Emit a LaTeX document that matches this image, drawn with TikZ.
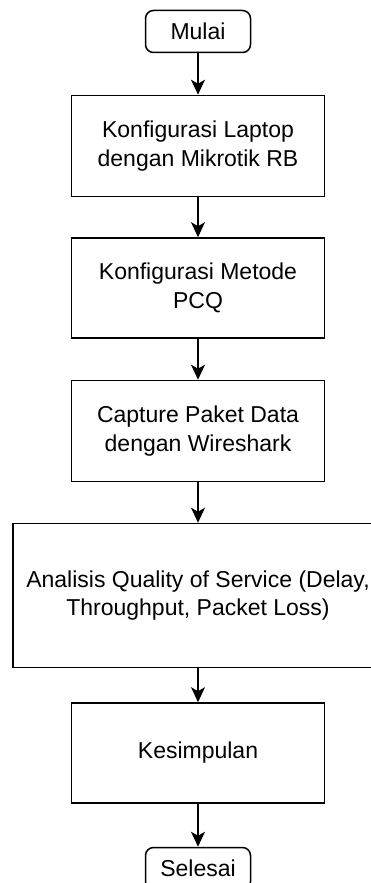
\documentclass[tikz,border=0pt]{standalone}
\usepackage{fontspec}
\setmainfont{Liberation Sans}
\usetikzlibrary{arrows.meta}
\begin{document}
\begin{tikzpicture}[x=1pt,y=-1pt,
 txt/.style={font=\fontsize{23}{28.5}\selectfont, align=center, inner sep=0pt},
 proc/.style={txt, draw=black, line width=1.6pt, rectangle, minimum width=253pt},
 term/.style={txt, draw=black, line width=1.5pt, rounded corners=8pt, minimum width=105pt, minimum height=42pt},
 flow/.style={-{Stealth[length=15pt,width=14pt,inset=4pt]}, line width=1.3pt}]
\useasboundingbox (0,0) rectangle (371,883);
\clip (0,0) rectangle (371,883);
\node[term] (m) at (198,31.5) {Mulai};
\node[proc, minimum height=101pt] (b1) at (198,146) {Konfigurasi Laptop\\dengan Mikrotik RB};
\node[proc, minimum height=100pt] (b2) at (198,288) {Konfigurasi Metode\\PCQ};
\node[proc, minimum height=101pt] (b3) at (198,431) {Capture Paket Data\\dengan Wireshark};
\node[proc, minimum width=370pt, minimum height=144pt] (b4) at (198,595.5) {Analisis Quality of Service (Delay,\\Throughput, Packet Loss)};
\node[proc, minimum height=100pt] (b5) at (198,753) {Kesimpulan};
\node[term] (s) at (198,868.5) {Selesai};
\draw[flow] (m) -- (b1);
\draw[flow] (b1) -- (b2);
\draw[flow] (b2) -- (b3);
\draw[flow] (b3) -- (b4);
\draw[flow] (b4) -- (b5);
\draw[flow] (b5) -- (s);
\end{tikzpicture}
\end{document}
